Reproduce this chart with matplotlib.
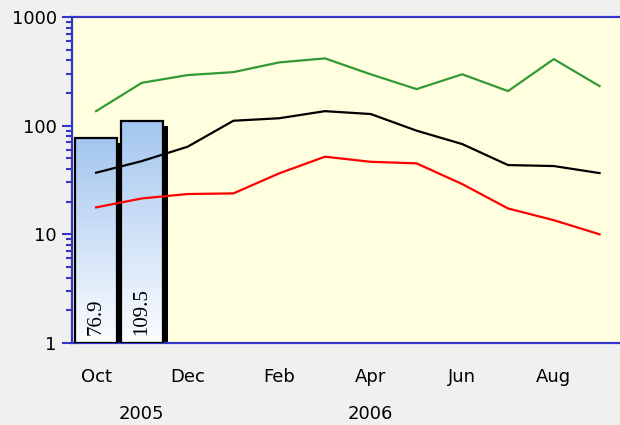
import numpy as np
import matplotlib
matplotlib.use('Agg')
import matplotlib.pyplot as plt
from matplotlib.transforms import offset_copy, blended_transform_factory
from matplotlib.colors import to_rgb

# months Oct 2005 .. Sep 2006
months = ['Oct', 'Nov', 'Dec', 'Jan', 'Feb', 'Mar', 'Apr', 'May', 'Jun', 'Jul', 'Aug', 'Sep']
month_labels = ['Oct', '', 'Dec', '', 'Feb', '', 'Apr', '', 'Jun', '', 'Aug', '']
years = ['2005', '2006']
year_pos = [1, 6]

green = [136, 248, 292, 311, 382, 416, 297, 217, 297, 208, 410, 231]
black = [36.9, 47.2, 64, 111, 117, 136, 128, 90, 67.7, 43.4, 42.5, 36.6]
red = [17.7, 21.4, 23.5, 23.8, 36.4, 51.8, 46.5, 45, 29, 17.3, 13.5, 10]

bar_vals = [76.9, 109.5]

BLUE = '#3434c8'
TOP_C = '#a3c6ee'
BOT_C = '#fbfcff'

fig = plt.figure(figsize=(6.2, 4.25), dpi=100, facecolor='#f0f0f0')
ax = fig.add_axes([72 / 620, 82 / 425, 550 / 620, 326 / 425])
ax.set_facecolor('#ffffe0')
ax.set_yscale('log')
ax.set_ylim(1, 1000)
ax.set_xlim(-0.526, 11.49)

x = np.arange(len(months))
bx = x[:len(bar_vals)]
w = 0.92

# drop shadow behind bars
shadow_tr = offset_copy(ax.transData, fig=fig, x=5, y=-5, units='dots')
ax.bar(bx, [v - 1 for v in bar_vals], bottom=1, width=w, color='black',
       linewidth=0, transform=shadow_tr, zorder=2)

# gradient fill, light blue at top to white at bottom
c0, c1 = np.array(to_rgb(TOP_C)), np.array(to_rgb(BOT_C))
for xi, v in zip(bx, bar_vals):
    n = 60
    edges = np.logspace(0, np.log10(v), n + 1)
    for i in range(n):
        t = (i + 0.5) / n
        col = c1 * (1 - t) + c0 * t
        ax.bar(xi, edges[i + 1] - edges[i], bottom=edges[i], width=w,
               color=col, linewidth=0, zorder=3)
ax.bar(bx, [v - 1 for v in bar_vals], bottom=1, width=w, fill=False,
       edgecolor='black', linewidth=1.6, zorder=4)

for xi, v in zip(bx, bar_vals):
    ax.annotate(f'{v}', (xi, 1), xytext=(0, 8), textcoords='offset pixels',
                rotation=90, ha='center', va='bottom', fontsize=15,
                family='Liberation Serif', zorder=5)

ax.plot(x, green, color='#339933', linewidth=1.6, zorder=6)
ax.plot(x, black, color='black', linewidth=1.6, zorder=6)
ax.plot(x, red, color='#ff0000', linewidth=1.6, zorder=6)

# axes styling
for s in ['left', 'top', 'bottom']:
    ax.spines[s].set_color(BLUE)
    ax.spines[s].set_linewidth(1.6)
ax.spines['right'].set_visible(False)

ax.set_yticks([1, 10, 100, 1000])
ax.set_yticklabels(['1', '10', '100', '1000'])
ax.tick_params(axis='y', which='major', length=7, width=1.5, color=BLUE,
               labelsize=13, pad=4)
ax.tick_params(axis='y', which='minor', length=4, width=1.5, color=BLUE)
ax.tick_params(axis='x', length=0, labelsize=13, pad=18)
ax.set_xticks(x)
ax.set_xticklabels(month_labels)

tr = blended_transform_factory(ax.transData, ax.transAxes)
for yl, xp in zip(years, year_pos):
    ax.text(xp, -0.218, yl, transform=tr, ha='center', va='center', fontsize=13)

fig.savefig('out.png', dpi=100, facecolor=fig.get_facecolor())
